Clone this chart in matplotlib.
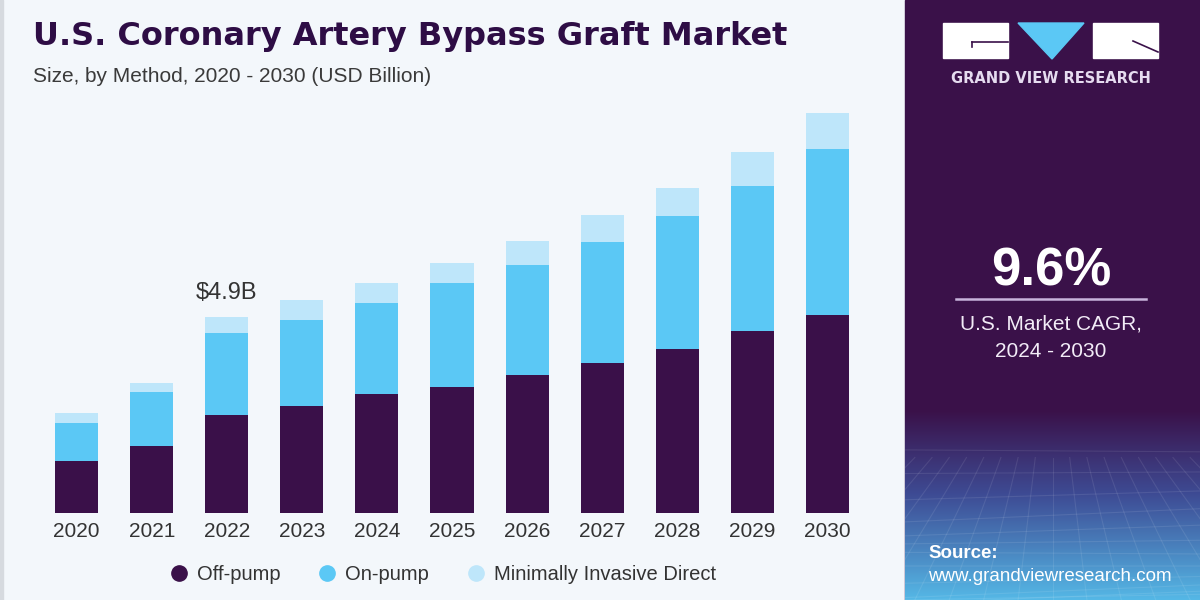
import numpy as np
import matplotlib.pyplot as plt
from matplotlib.patches import Rectangle, Polygon
from matplotlib.lines import Line2D

# market size by method, USD billion
years = ["2020", "2021", "2022", "2023", "2024", "2025", "2026", "2027", "2028", "2029", "2030"]
off_pump = [1.30, 1.68, 2.45, 2.67, 2.96, 3.15, 3.44, 3.74, 4.09, 4.54, 4.94]
on_pump = [0.95, 1.34, 2.04, 2.14, 2.29, 2.59, 2.76, 3.03, 3.34, 3.62, 4.15]
midcab = [0.24, 0.23, 0.40, 0.51, 0.49, 0.50, 0.59, 0.67, 0.70, 0.85, 0.91]
series_names = ["Off-pump", "On-pump", "Minimally Invasive Direct"]
callout_year = 2
callout_text = "\\$4.9B"
cagr = "9.6%"

C_DARK = "#3A1049"
C_MID = "#5BC8F5"
C_LIGHT = "#BEE6FA"
BG = "#F3F7FB"
PANEL = "#3A1149"

W, H = 1200, 600
fig = plt.figure(figsize=(12, 6), dpi=100, facecolor=BG)

def fx(px):
    return px / W

def fy(py):
    return 1 - py / H

# left grey edge
fig.patches.append(Rectangle((0, 0), fx(3), 1, transform=fig.transFigure, color="#D6DADF", zorder=-1))

# ---- bars
ax = fig.add_axes([fx(39.2), fy(512.7), fx(864.8 - 39.2), 420 / H])
ax.set_facecolor(BG)
x = np.arange(len(years))
bw = 0.573
off = np.array(off_pump)
on = np.array(on_pump)
mi = np.array(midcab)
ax.bar(x, off, bw, color=C_DARK)
ax.bar(x, on, bw, bottom=off, color=C_MID)
ax.bar(x, mi, bw, bottom=off + on, color=C_LIGHT)
ax.set_xlim(-0.5, 10.5)
ax.set_ylim(0, 10.5)
ax.set_xticks(x)
ax.set_xticklabels(years, fontsize=15, color="#333333", family="Liberation Sans")
ax.tick_params(axis="x", length=0, pad=7)
ax.set_yticks([])
for s in ax.spines.values():
    s.set_visible(False)

total = off + on + mi
ax.text(callout_year, total[callout_year] + 0.45, callout_text, ha="center", va="baseline",
        fontsize=17, color="#333333", family="Liberation Sans")

# ---- titles
fig.text(fx(33), fy(45), "U.S. Coronary Artery Bypass Graft Market", fontsize=23,
         fontweight="bold", color="#2E0D45", family="DejaVu Sans", va="baseline")
fig.text(fx(33), fy(82), "Size, by Method, 2020 - 2030 (USD Billion)", fontsize=15,
         color="#3A3A3A", family="Liberation Sans", va="baseline")

# ---- legend
handles = [Line2D([], [], marker="o", ls="none", markersize=11, color=c)
           for c in (C_DARK, C_MID, C_LIGHT)]
fig.legend(handles, series_names, loc="center left", bbox_to_anchor=(fx(153), fy(575)),
           ncol=3, frameon=False, handlelength=0.8, handletextpad=0.5, columnspacing=1.9,
           prop={"family": "Liberation Sans", "size": 14.5}, labelcolor="#333333")

# ---- right panel
fig.patches.append(Rectangle((fx(905), 0), fx(295), 1, transform=fig.transFigure, color=PANEL, zorder=-1))

gax = fig.add_axes([fx(905), 0, fx(295), 190 / H])
c0 = np.array([0x3A, 0x11, 0x49]) / 255
c1 = np.array([0x3E, 0x4C, 0x95]) / 255
c2 = np.array([0x55, 0xB8, 0xE6]) / 255
rows = []
for g in np.linspace(0, 1, 200):
    if g < 0.45:
        rows.append(c0 + (c1 - c0) * g / 0.45)
    else:
        rows.append(c1 + (c2 - c1) * (g - 0.45) / 0.55)
img = np.array(rows)[:, None, :].repeat(10, axis=1)
gax.imshow(img, aspect="auto", extent=[0, 1, 1, 0])
# faint perspective grid, only in the lower part
for k in range(12):
    yy = 1 - (k / 11) ** 1.6 * 0.75
    gax.plot([0, 1], [yy + 0.04 * np.sin(k), yy - 0.03], color="white", alpha=0.09, lw=0.8)
for k in range(-6, 18):
    x0 = k / 12
    gax.plot([x0 * 0.7 + 0.15, x0 * 1.4 - 0.2], [0.25, 1], color="white", alpha=0.09, lw=0.8)
gax.set_xlim(0, 1)
gax.set_ylim(1, 0)
gax.axis("off")

# logo
fig.patches.append(Rectangle((fx(943), fy(58)), fx(65), 35 / H, transform=fig.transFigure, color="white"))
fig.patches.append(Rectangle((fx(1093), fy(58)), fx(65), 35 / H, transform=fig.transFigure, color="white"))
fig.patches.append(Polygon([(fx(1018), fy(23)), (fx(1084), fy(23)), (fx(1052), fy(59))],
                           closed=True, transform=fig.transFigure, color=C_MID))
fig.lines.append(Line2D([fx(972), fx(1008)], [fy(42), fy(42)], transform=fig.transFigure, color=PANEL, lw=1.2))
fig.lines.append(Line2D([fx(972), fx(972)], [fy(42), fy(47)], transform=fig.transFigure, color=PANEL, lw=1.2))
fig.lines.append(Line2D([fx(1133), fx(1158)], [fy(41), fy(52)], transform=fig.transFigure, color=PANEL, lw=1.2))
fig.text(fx(1050.5), fy(83), "GRAND VIEW RESEARCH", ha="center", va="baseline", fontsize=10.5,
         fontweight="bold", color="#E6DCF0", family="DejaVu Sans")

fig.text(fx(1051), fy(285), cagr, ha="center", va="baseline", fontsize=38, fontweight="bold",
         color="white", family="Liberation Sans")
fig.lines.append(Line2D([fx(956), fx(1146)], [fy(299), fy(299)], transform=fig.transFigure,
                        color="#C8B4DC", lw=1.8))
fig.text(fx(1051), fy(330), "U.S. Market CAGR,", ha="center", va="baseline", fontsize=15,
         color="#F2ECF7", family="Liberation Sans")
fig.text(fx(1051), fy(357), "2024 - 2030", ha="center", va="baseline", fontsize=15,
         color="#F2ECF7", family="Liberation Sans")

fig.text(fx(928), fy(558), "Source:", va="baseline", fontsize=13.5, fontweight="bold",
         color="white", family="Liberation Sans")
fig.text(fx(928), fy(581), "www.grandviewresearch.com", va="baseline", fontsize=13.5,
         color="white", family="Liberation Sans")

fig.savefig("out.png", dpi=100, facecolor=BG)
